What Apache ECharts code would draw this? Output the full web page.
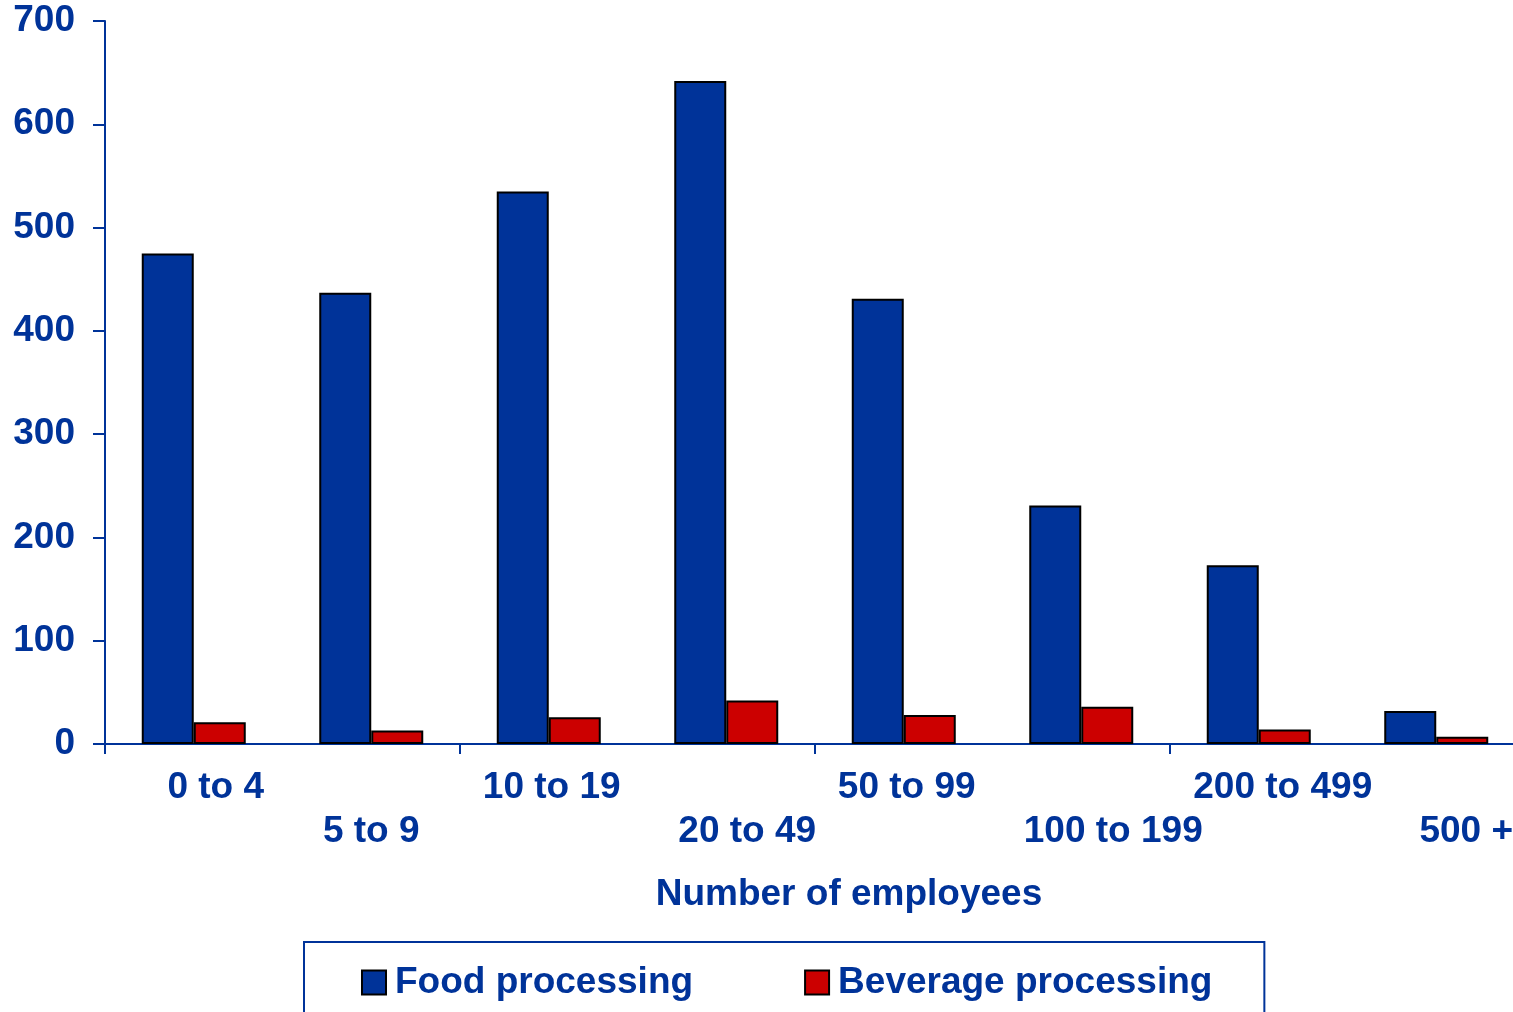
<!DOCTYPE html>
<html>
<head>
<meta charset="utf-8">
<script src="https://cdn.jsdelivr.net/npm/echarts@6/dist/echarts.min.js"></script>
<style>
html,body{margin:0;padding:0;background:#fff;}
#chart{width:1513px;height:1012px;}
</style>
</head>
<body>
<div id="chart"></div>
<script>
const categories = ['0 to 4', '5 to 9', '10 to 19', '20 to 49', '50 to 99', '100 to 199', '200 to 499', '500 +'];
const foodProcessing = [475, 437, 535, 642, 431, 231, 173, 32];
const beverageProcessing = [21, 13, 26, 42, 28, 36, 14, 7];
const yTicks = [0, 100, 200, 300, 400, 500, 600, 700];

const BLUE = '#003399';
const RED = '#CC0000';
const FONT = "'Liberation Sans', Arial, sans-serif";
const FS = 37;

// label horizontal nudges (px) and row placement, styling only
const labelShift = [22, 0, 3, 21, 3, 32, 24, 30];
const rich = {};
labelShift.forEach((d, i) => {
  rich['s' + i] = {
    fontFamily: FONT, fontSize: FS, fontWeight: 'bold', color: BLUE,
    padding: [i % 2 ? 44 : 0, 0, 0, 2 * d]
  };
});

const chart = echarts.init(document.getElementById('chart'));
chart.setOption({
  animation: false,
  backgroundColor: '#fff',
  grid: { left: 105, top: 21, bottom: 268, right: -12, containLabel: false, outerBoundsMode: 'none' },
  legend: {
    left: 304, top: 942,
    padding: [22, 52, 40, 57],
    borderColor: BLUE, borderWidth: 2,
    itemWidth: 24, itemHeight: 24, itemGap: 111,
    icon: 'rect',
    textStyle: { fontFamily: FONT, fontSize: FS, fontWeight: 'bold', color: BLUE, padding: [0, 0, 0, 4] },
    data: ['Food processing', 'Beverage processing']
  },
  xAxis: {
    type: 'category',
    data: categories,
    name: 'Number of employees',
    nameLocation: 'middle',
    nameGap: 132,
    nameTextStyle: { fontFamily: FONT, fontSize: FS, fontWeight: 'bold', color: BLUE, padding: [0, 0, 0, 68] },
    axisLine: { lineStyle: { color: BLUE, width: 2 } },
    axisTick: { show: true, interval: (i) => i % 2 === 0, length: 10, lineStyle: { color: BLUE, width: 2 } },
    axisLabel: {
      interval: 0, margin: 25,
      formatter: (v, i) => '{s' + i + '|' + v + '}',
      rich: rich
    }
  },
  yAxis: {
    type: 'value',
    min: 0, max: 700, interval: 100,
    splitLine: { show: false },
    axisLine: { show: true, lineStyle: { color: BLUE, width: 2 } },
    axisTick: { show: true, length: 12, lineStyle: { color: BLUE, width: 2 } },
    axisLabel: {
      margin: 30,
      fontFamily: FONT, fontSize: FS, fontWeight: 'bold', color: BLUE,
      padding: [6, 0, 0, 0],
      formatter: v => yTicks.includes(v) ? String(v) : ''
    }
  },
  series: [
    {
      name: 'Food processing', type: 'bar', data: foodProcessing,
      barWidth: 52, barGap: '0%',
      itemStyle: { color: BLUE, borderColor: '#000', borderWidth: 2 }
    },
    {
      name: 'Beverage processing', type: 'bar', data: beverageProcessing,
      barWidth: 52, barGap: '0%',
      itemStyle: { color: RED, borderColor: '#000', borderWidth: 2 }
    }
  ]
});
</script>
</body>
</html>
